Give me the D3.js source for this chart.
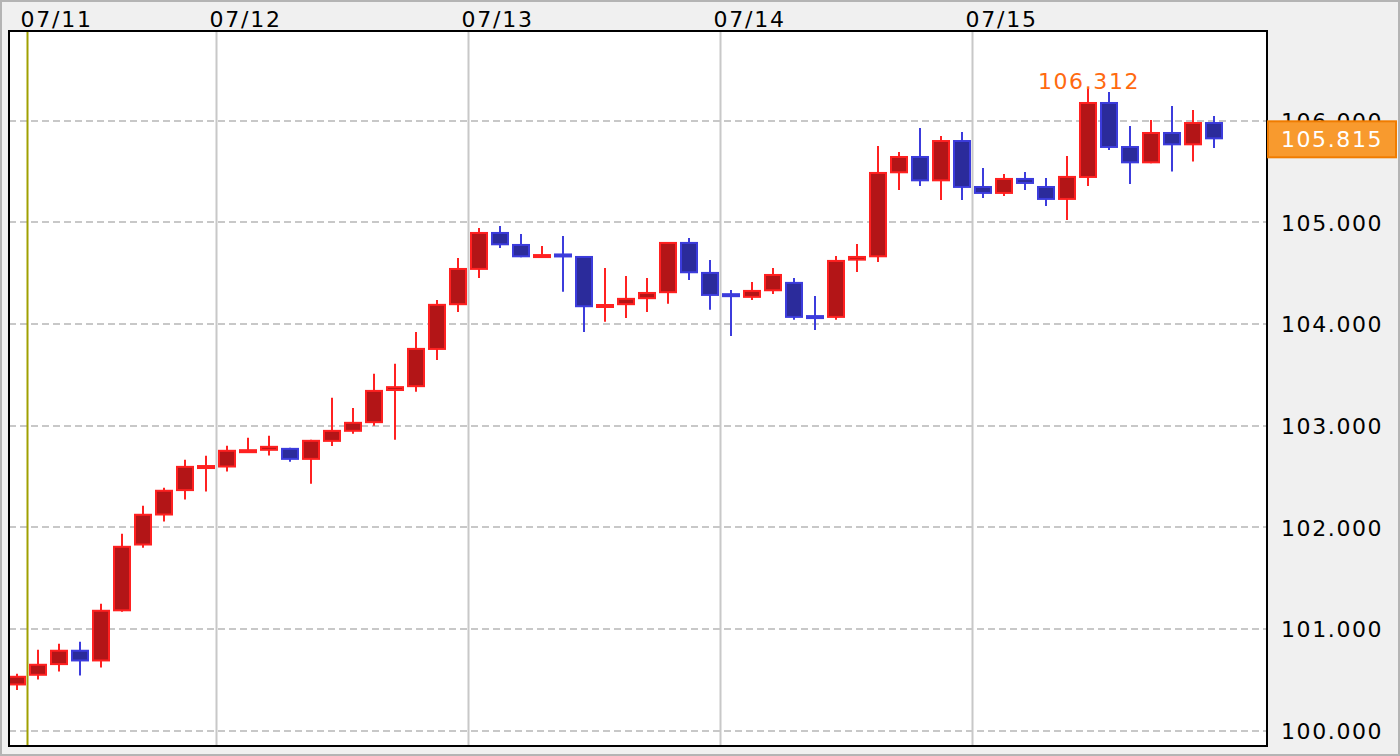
<!DOCTYPE html>
<html>
<head>
<meta charset="utf-8">
<script src="https://cdn.jsdelivr.net/npm/d3@7"></script>
<style>
  html, body { margin: 0; padding: 0; background: #f0f0f0; }
  svg { display: block; }
  text { font-family: "DejaVu Sans", Verdana, sans-serif; }
</style>
</head>
<body>
<svg id="chart" width="1400" height="756"></svg>
<script>
// ---- data (2-hour candles, USD/JPY) ----
const opens  = [100.445,100.540,100.645,100.796,100.681,101.174,101.821,102.116,102.356,102.580,
                102.588,102.735,102.752,102.781,102.663,102.840,102.939,103.024,103.340,103.378,
                103.744,104.184,104.531,104.904,104.786,104.662,104.678,104.668,104.170,104.184,
                104.243,104.302,104.806,104.511,104.290,104.256,104.321,104.413,104.079,104.059,
                104.622,104.655,105.481,105.651,105.402,105.808,105.356,105.278,105.435,105.356,
                105.219,105.435,106.182,105.749,105.579,105.887,105.756,105.985];
const highs  = [100.560,100.796,100.855,100.875,101.248,101.936,102.211,102.388,102.663,102.703,
                102.801,102.880,102.900,102.781,102.860,103.273,103.174,103.509,103.607,103.921,
                104.236,104.649,104.943,104.963,104.885,104.767,104.865,104.668,104.550,104.472,
                104.452,104.806,104.845,104.629,104.334,104.413,104.550,104.452,104.275,104.668,
                104.786,105.749,105.690,105.926,105.848,105.887,105.533,105.474,105.494,105.435,
                105.651,106.312,106.280,105.946,106.005,106.143,106.103,106.044];
const lows   = [100.400,100.504,100.583,100.543,100.622,101.170,101.800,102.057,102.273,102.352,
                102.548,102.730,102.706,102.644,102.428,102.800,102.919,102.998,102.860,103.332,
                103.646,104.118,104.452,104.747,104.655,104.660,104.315,103.921,104.020,104.059,
                104.118,104.197,104.432,104.138,103.882,104.236,104.295,104.040,103.941,104.040,
                104.511,104.609,105.317,105.356,105.219,105.219,105.238,105.258,105.317,105.160,
                105.022,105.356,105.710,105.376,105.579,105.499,105.597,105.730];
const closes = [100.540,100.658,100.796,100.681,101.189,101.818,102.133,102.369,102.604,102.605,
                102.762,102.762,102.801,102.663,102.860,102.958,103.037,103.351,103.388,103.764,
                104.197,104.550,104.904,104.773,104.655,104.672,104.668,104.164,104.182,104.256,
                104.314,104.806,104.498,104.275,104.275,104.334,104.491,104.059,104.055,104.629,
                104.668,105.494,105.651,105.402,105.808,105.337,105.278,105.435,105.376,105.219,
                105.455,106.182,105.730,105.579,105.887,105.756,105.985,105.815];
// day separators: line drawn after candle index, with its date label
const dayBreakAfter = [0, 9, 21, 33, 45];
const dayLabels     = ["07/11", "07/12", "07/13", "07/14", "07/15"];
const yTicks        = [100, 101, 102, 103, 104, 105, 106];

// ---- layout ----
const W = 1400, H = 756;
const plot = { left: 9, top: 31, right: 1267, bottom: 746 };
const svg = d3.select("#chart");

const n = opens.length;
const x = d3.scaleBand().domain(d3.range(n)).range([6.5, 6.5 + 21 * n]).paddingInner(0);
const cx = i => x(i) + x.bandwidth() / 2;
const y = d3.scaleLinear().domain([100, 106]).range([730.7, 120.5]);

// outer background + border
svg.append("rect").attr("x", 1).attr("y", 1).attr("width", W - 2).attr("height", H - 2)
  .attr("fill", "#f0f0f0").attr("stroke", "#b4b4b4").attr("stroke-width", 2);

// plot area
svg.append("rect").attr("x", plot.left).attr("y", plot.top)
  .attr("width", plot.right - plot.left).attr("height", plot.bottom - plot.top)
  .attr("fill", "#ffffff");

svg.append("clipPath").attr("id", "plotclip").append("rect")
  .attr("x", plot.left).attr("y", plot.top)
  .attr("width", plot.right - plot.left).attr("height", plot.bottom - plot.top);

const g = svg.append("g").attr("clip-path", "url(#plotclip)");

// horizontal dashed gridlines
g.selectAll("line.hgrid").data(yTicks).join("line").attr("class", "hgrid")
  .attr("x1", plot.left).attr("x2", plot.right)
  .attr("y1", d => Math.round(y(d))).attr("y2", d => Math.round(y(d)))
  .attr("stroke", "#c8c8c8").attr("stroke-width", 2).attr("stroke-dasharray", "7,4");

// vertical day lines
g.selectAll("line.vgrid").data(dayBreakAfter).join("line").attr("class", "vgrid")
  .attr("x1", d => x(d + 1)).attr("x2", d => x(d + 1))
  .attr("y1", plot.top).attr("y2", plot.bottom)
  .attr("stroke", (d, i) => i === 0 ? "#a0a000" : "#c8c8c8").attr("stroke-width", 2);

// candles
const candles = d3.range(n).map(i => ({ i, o: opens[i], h: highs[i], l: lows[i], c: closes[i] }));
const upStroke = "#ff2121", upFill = "#b31517", dnStroke = "#3c3cdc", dnFill = "#2b2b9b";
const cg = g.selectAll("g.candle").data(candles).join("g").attr("class", "candle");
cg.append("line")
  .attr("x1", d => cx(d.i)).attr("x2", d => cx(d.i))
  .attr("y1", d => y(d.h)).attr("y2", d => y(d.l))
  .attr("stroke", d => d.c >= d.o ? upStroke : dnStroke).attr("stroke-width", 2);
cg.append("rect")
  .attr("x", d => cx(d.i) - 8).attr("width", 16)
  .attr("y", d => {
    const top = y(Math.max(d.o, d.c)), bot = y(Math.min(d.o, d.c));
    const h = Math.max(bot - top, 4);
    return (top + bot) / 2 - h / 2 + 1;
  })
  .attr("height", d => {
    const top = y(Math.max(d.o, d.c)), bot = y(Math.min(d.o, d.c));
    return Math.max(bot - top, 4) - 2;
  })
  .attr("fill", d => d.c >= d.o ? upFill : dnFill)
  .attr("stroke", d => d.c >= d.o ? upStroke : dnStroke).attr("stroke-width", 2);

// max high label
const maxI = d3.maxIndex(highs);
svg.append("text").attr("x", cx(maxI) + 1).attr("y", y(highs[maxI]) + 0)
  .attr("text-anchor", "middle").attr("font-size", 22).attr("letter-spacing", 1.6)
  .attr("fill", "#ff6a10").text(d3.format(".3f")(highs[maxI]));

// frame
svg.append("rect").attr("x", plot.left).attr("y", plot.top)
  .attr("width", plot.right - plot.left).attr("height", plot.bottom - plot.top)
  .attr("fill", "none").attr("stroke", "#000").attr("stroke-width", 2);

// date labels
svg.selectAll("text.date").data(dayBreakAfter).join("text").attr("class", "date")
  .attr("x", d => x(d + 1) - 7).attr("y", 27)
  .attr("font-size", 22).attr("letter-spacing", 1.8).attr("fill", "#000")
  .text((d, i) => dayLabels[i]);

// y axis labels (d3 axis)
const yAxis = d3.axisRight(y).tickValues(yTicks).tickSize(0).tickPadding(0)
  .tickFormat(d3.format(".3f"));
const ya = svg.append("g").attr("transform", `translate(${plot.right + 14},0)`).call(yAxis);
ya.select(".domain").remove();
ya.selectAll("text").attr("font-size", 22).attr("letter-spacing", 1.6)
  .attr("font-family", "DejaVu Sans").attr("fill", "#000").attr("dy", "0.36em");

// last price box
const last = closes[n - 1];
const by = y(last);
svg.append("rect").attr("x", plot.right + 1).attr("y", by - 18).attr("width", 128).attr("height", 36)
  .attr("fill", "#f89a2e").attr("stroke", "#f07c00").attr("stroke-width", 2);
svg.append("text").attr("x", plot.right + 65).attr("y", by).attr("dy", "0.36em")
  .attr("text-anchor", "middle").attr("font-size", 22).attr("letter-spacing", 1.6)
  .attr("fill", "#ffffff").text(d3.format(".3f")(last));
</script>
</body>
</html>
